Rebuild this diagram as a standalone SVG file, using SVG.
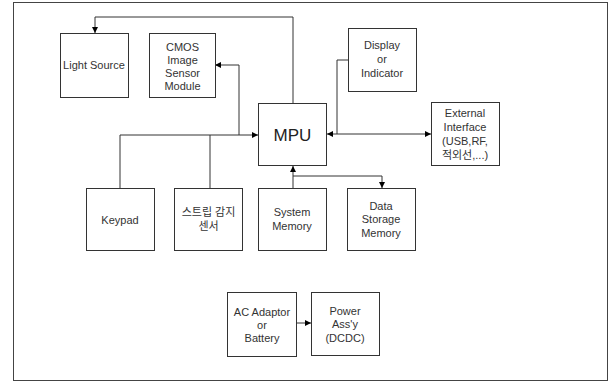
<svg xmlns="http://www.w3.org/2000/svg" width="613" height="382" viewBox="0 0 613 382">
<defs>
<marker id="ah" viewBox="0 0 10 10" refX="10" refY="5" markerWidth="6" markerHeight="6" orient="auto" markerUnits="userSpaceOnUse">
<path d="M0,0 L10,5 L0,10 z" fill="#000"/>
</marker>
<style>
.box{fill:#fff;stroke:#333;stroke-width:1}
.t{font-family:"Liberation Sans","Noto Sans CJK KR",sans-serif;font-size:11px;fill:#333;text-anchor:middle}
.big{font-size:17px;fill:#222}
.c{fill:none;stroke:#333;stroke-width:1}
</style>
</defs>
<rect x="13.5" y="2.5" width="594" height="378" fill="#fff" stroke="#444" stroke-width="1"/>
<g id="connectors">
<polyline class="c" points="293,103 293,17 95,17 95,33" marker-end="url(#ah)"/>
<polyline class="c" points="239,135 239,65 215,65" marker-end="url(#ah)"/>
<polyline class="c" points="120,188 120,135 258,135" marker-end="url(#ah)"/>
<line class="c" x1="210" y1="188" x2="210" y2="135"/>
<line class="c" x1="293" y1="188" x2="293" y2="166" marker-end="url(#ah)"/>
<polyline class="c" points="293,176 382,176 382,188" marker-end="url(#ah)"/>
<polyline class="c" points="348,60 337,60 337,134"/>
<line class="c" x1="337" y1="134" x2="327" y2="134" marker-end="url(#ah)"/>
<line class="c" x1="337" y1="134" x2="431" y2="134" marker-end="url(#ah)"/>
<line class="c" x1="296" y1="323" x2="311" y2="323" marker-end="url(#ah)"/>
</g>
<g id="light"><rect class="box" x="60.5" y="33.5" width="68" height="64"/><text class="t" x="94" y="69">Light Source</text></g>
<g id="cmos"><rect class="box" x="149.5" y="33.5" width="66" height="64"/><text class="t" x="182.5" y="51">CMOS</text><text class="t" x="182.5" y="64">Image</text><text class="t" x="182.5" y="77">Sensor</text><text class="t" x="182.5" y="90">Module</text></g>
<g id="display"><rect class="box" x="348.5" y="28.5" width="68" height="63"/><text class="t" x="382" y="49">Display</text><text class="t" x="382" y="63">or</text><text class="t" x="382" y="77">Indicator</text></g>
<g id="mpu"><rect class="box" x="258.5" y="103.5" width="68" height="62"/><text class="t big" x="292.5" y="141">MPU</text></g>
<g id="ext"><rect class="box" x="431.5" y="102.5" width="68" height="63"/><text class="t" x="465" y="117">External</text><text class="t" x="465" y="131">Interface</text><text class="t" x="465" y="145">(USB,RF,</text><text class="t" x="465" y="159">적외선,...)</text></g>
<g id="keypad"><rect class="box" x="86.5" y="188.5" width="68" height="62"/><text class="t" x="120" y="224">Keypad</text></g>
<g id="stripe"><rect class="box" x="174.5" y="188.5" width="68" height="62"/><text class="t" x="208.5" y="216">스트립 감지</text><text class="t" x="208.5" y="230">센서</text></g>
<g id="sysmem"><rect class="box" x="258.5" y="188.5" width="68" height="62"/><text class="t" x="292" y="216">System</text><text class="t" x="292" y="230">Memory</text></g>
<g id="datamem"><rect class="box" x="347.5" y="188.5" width="68" height="62"/><text class="t" x="381" y="210">Data</text><text class="t" x="381" y="223">Storage</text><text class="t" x="381" y="237">Memory</text></g>
<g id="acadaptor"><rect class="box" x="227.5" y="292.5" width="69" height="64"/><text class="t" x="262" y="316">AC Adaptor</text><text class="t" x="262" y="329">or</text><text class="t" x="262" y="342">Battery</text></g>
<g id="power"><rect class="box" x="311.5" y="292.5" width="68" height="63"/><text class="t" x="345" y="315">Power</text><text class="t" x="345" y="328">Ass'y</text><text class="t" x="345" y="342">(DCDC)</text></g>
</svg>
